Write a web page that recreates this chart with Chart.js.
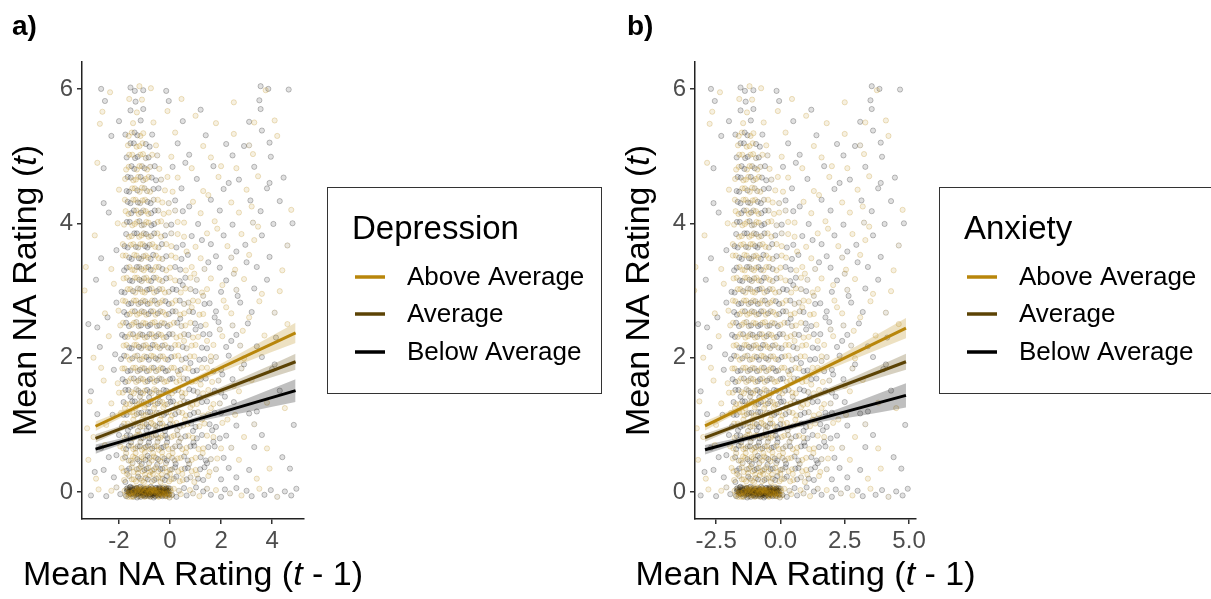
<!DOCTYPE html>
<html>
<head>
<meta charset="utf-8">
<script src="https://cdn.jsdelivr.net/npm/chart.js@4.4.1/dist/chart.umd.min.js"></script>
<style>
  html, body { margin: 0; padding: 0; background: #fff; }
  body { width: 1211px; height: 599px; position: relative; overflow: hidden; }
  #depChart { position: absolute; left: 0; top: 0; }
  #anxChart { position: absolute; left: 605px; top: 0; }
</style>
</head>
<body>
<canvas id="depChart" width="605" height="599"></canvas>
<canvas id="anxChart" width="606" height="599"></canvas>
<script>
// Groups (legend order)
const groupLabels = ['Above Average', 'Average', 'Below Average'];
const groupColors = ['#B8860B', '#5C4305', '#000000'];
const groupRGB = ['184,134,11', '92,67,5', '0,0,0'];

// Axis ticks
const yTicks = [0, 2, 4, 6];
const depXTicks = [-2, 0, 2, 4];
const anxXTicks = [-2.5, 0, 2.5, 5];

// Fitted lines (endpoints) per group: above, average, below
const depFitX = [-2.92, 4.92];
const depFitAbove = [0.98, 2.37];
const depFitAverage = [0.80, 1.94];
const depFitBelow = [0.64, 1.51];

const anxFitX = [-2.93, 4.88];
const anxFitAbove = [0.985, 2.44];
const anxFitAverage = [0.81, 1.94];
const anxFitBelow = [0.63, 1.44];

// Confidence bands read at a few x positions
const depBandX = [-2.92, -1.5, 0, 1.5, 3, 4.92];
const depBandAboveHi = [1.05, 1.27, 1.53, 1.81, 2.12, 2.52];
const depBandAboveLo = [0.91, 1.19, 1.47, 1.71, 1.94, 2.22];
const depBandAverageHi = [0.86, 1.045, 1.245, 1.48, 1.73, 2.06];
const depBandAverageLo = [0.74, 0.975, 1.195, 1.40, 1.59, 1.82];
const depBandBelowHi = [0.71, 0.84, 0.99, 1.18, 1.39, 1.68];
const depBandBelowLo = [0.57, 0.76, 0.93, 1.08, 1.19, 1.34];

const anxBandX = [-2.93, -1.5, 0, 1.5, 3, 4.88];
const anxBandAboveHi = [1.055, 1.29, 1.56, 1.86, 2.18, 2.59];
const anxBandAboveLo = [0.915, 1.21, 1.50, 1.76, 2.00, 2.29];
const anxBandAverageHi = [0.87, 1.055, 1.255, 1.49, 1.74, 2.06];
const anxBandAverageLo = [0.75, 0.985, 1.205, 1.41, 1.60, 1.82];
const anxBandBelowHi = [0.70, 0.82, 0.96, 1.14, 1.35, 1.62];
const anxBandBelowLo = [0.56, 0.74, 0.90, 1.04, 1.13, 1.26];

// Observations: [NA(t-1), NA(t), group] (0 above, 1 average, 2 below)
const naPoints = [
  // ~0
  [-3.1,-0.05,2],[-2.8,0.04,0],[-2.5,-0.06,2],[-2.3,0.02,0],[-2.1,0.07,1],[-1.95,-0.03,2],
  [-1.78,0.02,0],[-1.72,-0.06,2],[-1.66,0.06,1],[-1.61,-0.01,0],[-1.55,0.08,2],[-1.52,-0.07,0],[-1.47,0.03,2],[-1.41,-0.04,1],
  [-1.38,0.07,0],[-1.33,0.0,2],[-1.29,-0.08,2],[-1.24,0.05,0],[-1.2,-0.02,1],[-1.16,0.08,2],[-1.12,-0.05,0],[-1.08,0.02,2],
  [-1.04,0.06,1],[-1.0,-0.07,0],[-0.97,0.01,2],[-0.93,-0.03,2],[-0.9,0.07,0],[-0.86,-0.06,1],[-0.82,0.03,2],[-0.79,-0.01,0],
  [-0.75,0.08,2],[-0.71,-0.05,1],[-0.68,0.04,0],[-0.64,-0.08,2],[-0.6,0.0,0],[-0.57,0.06,2],[-0.53,-0.04,1],[-0.49,0.02,2],
  [-0.45,-0.07,0],[-0.42,0.07,2],[-0.38,-0.02,1],[-0.34,0.05,0],[-0.3,-0.06,2],[-0.26,0.01,2],[-0.22,0.08,0],[-0.18,-0.05,1],
  [-0.14,0.03,2],[-0.1,-0.01,0],[-0.06,0.06,2],[-0.02,-0.08,1],[0.03,0.02,0],[0.08,-0.04,2],
  [-1.7,0.05,2],[-1.58,-0.02,1],[-1.44,0.0,0],[-1.35,0.05,1],[-1.26,-0.03,2],[-1.14,0.04,0],[-1.05,-0.05,2],[-0.95,0.05,1],
  [-0.88,-0.02,0],[-0.77,0.04,2],[-0.66,-0.03,1],[-0.55,0.03,0],[-0.47,-0.05,2],[-0.36,0.04,1],[-0.28,-0.03,0],[-0.16,0.05,2],
  [-0.08,-0.03,1],[-1.5,0.02,2],[-1.3,0.03,0],[-1.1,0.0,2],[-0.92,0.02,1],[-0.73,-0.01,2],[-0.62,0.03,0],[-0.4,0.0,2],
  [-0.2,-0.02,0],[-1.22,-0.01,1],[-0.84,0.0,2],
  [0.15,0.05,0],[0.25,-0.07,2],[0.35,0.02,1],[0.42,-0.03,0],[0.55,0.06,2],[0.65,-0.05,2],[0.78,0.03,0],[0.9,-0.02,1],
  [1.02,0.07,2],[1.15,-0.06,0],[1.3,0.01,2],[1.45,0.05,1],[1.6,-0.04,2],[1.8,0.03,0],[2.0,-0.07,2],[2.15,0.04,2],
  [2.35,-0.02,1],[2.6,0.06,2],[2.8,-0.05,0],[3.0,0.02,2],[3.2,-0.06,2],[3.5,0.05,0],[3.7,-0.04,2],[3.95,0.03,2],
  [4.2,-0.07,1],[4.5,0.01,2],[4.75,-0.05,2],[4.95,0.05,2],
  // ~0.2
  [-2.9,0.2,0],[-2.2,0.22,2],[-1.8,0.18,0],[-1.6,0.24,1],[-1.42,0.19,0],[-1.25,0.23,2],[-1.1,0.17,0],[-0.95,0.21,1],
  [-0.8,0.25,0],[-0.62,0.18,2],[-0.45,0.22,0],[-0.3,0.2,1],[-0.12,0.24,2],[0.05,0.19,0],[0.25,0.23,2],[0.5,0.18,0],
  [0.8,0.22,1],[1.1,0.2,2],[1.5,0.24,0],[2.0,0.19,2],[2.6,0.22,2],[3.4,0.2,0],
  // ~0.35
  [-2.6,0.33,2],[-1.9,0.36,0],[-1.7,0.32,2],[-1.5,0.37,0],[-1.3,0.34,1],[-1.15,0.38,0],[-1.0,0.33,2],[-0.85,0.36,0],
  [-0.7,0.32,1],[-0.55,0.37,0],[-0.38,0.34,2],[-0.2,0.36,0],[0.0,0.33,1],[0.2,0.37,2],[0.45,0.34,0],[0.7,0.36,2],
  [1.0,0.33,0],[1.35,0.37,2],[1.8,0.34,1],[2.3,0.36,2],[3.1,0.33,2],[3.9,0.35,0],
  // ~0.5
  [-3.2,0.48,0],[-2.4,0.52,2],[-1.85,0.5,0],[-1.62,0.47,1],[-1.45,0.53,0],[-1.28,0.49,2],[-1.12,0.52,0],[-0.96,0.48,2],
  [-0.8,0.51,1],[-0.63,0.53,0],[-0.47,0.49,2],[-0.3,0.52,0],[-0.12,0.47,2],[0.08,0.51,1],[0.3,0.5,0],[0.55,0.53,2],
  [0.85,0.48,0],[1.2,0.52,2],[1.6,0.49,1],[2.1,0.51,2],[2.7,0.48,0],[4.4,0.52,2],
  // ~0.67
  [-2.7,0.66,2],[-1.95,0.68,0],[-1.72,0.64,2],[-1.52,0.69,0],[-1.35,0.65,1],[-1.18,0.68,2],[-1.02,0.66,0],[-0.87,0.69,1],
  [-0.7,0.65,2],[-0.52,0.68,0],[-0.35,0.66,2],[-0.15,0.69,0],[0.1,0.65,1],[0.38,0.68,2],[0.65,0.66,0],[0.95,0.69,2],
  [1.3,0.65,0],[1.75,0.68,2],[2.4,0.66,1],[3.3,0.67,2],
  // ~0.83
  [-3.0,0.82,0],[-2.0,0.85,2],[-1.78,0.81,0],[-1.56,0.84,2],[-1.38,0.82,1],[-1.2,0.86,0],[-1.05,0.81,2],[-0.9,0.84,0],
  [-0.72,0.82,1],[-0.55,0.85,2],[-0.38,0.81,0],[-0.18,0.84,2],[0.05,0.82,0],[0.3,0.85,1],[0.6,0.83,2],[0.9,0.81,0],
  [1.25,0.85,2],[1.7,0.82,0],[2.2,0.84,2],[2.9,0.82,0],[3.6,0.85,2],
  // ~1.0
  [-2.5,1.0,0],[-1.88,0.98,2],[-1.66,1.02,0],[-1.45,0.99,2],[-1.25,1.03,1],[-1.08,0.98,0],[-0.92,1.01,2],[-0.74,1.03,0],
  [-0.58,0.99,1],[-0.4,1.02,2],[-0.22,0.98,0],[0.0,1.01,2],[0.25,1.03,0],[0.52,0.99,1],[0.82,1.02,2],[1.15,0.98,0],
  [1.55,1.01,2],[2.05,1.03,0],[2.6,0.99,2],[3.3,1.01,1],[4.85,1.0,2],
  // ~1.17
  [-2.85,1.16,2],[-1.92,1.18,0],[-1.7,1.15,2],[-1.48,1.19,0],[-1.3,1.16,1],[-1.12,1.18,2],[-0.95,1.15,0],[-0.78,1.19,2],
  [-0.6,1.16,0],[-0.42,1.18,1],[-0.24,1.15,2],[-0.05,1.19,0],[0.2,1.16,2],[0.48,1.18,0],[0.78,1.15,2],[1.1,1.19,1],
  [1.5,1.16,0],[2.0,1.18,2],[2.55,1.15,0],[3.1,1.17,2],
  // ~1.33
  [-2.3,1.32,0],[-1.82,1.34,2],[-1.58,1.31,0],[-1.38,1.35,2],[-1.2,1.32,0],[-1.02,1.34,1],[-0.85,1.31,2],[-0.66,1.35,0],
  [-0.48,1.32,2],[-0.3,1.34,0],[-0.1,1.31,1],[0.12,1.35,2],[0.4,1.32,0],[0.7,1.34,2],[1.05,1.31,0],[1.45,1.35,2],
  [1.95,1.32,1],[2.5,1.34,2],[3.8,1.33,0],[-3.15,1.35,0],
  // ~1.5
  [-3.1,1.5,2],[-2.0,1.48,0],[-1.75,1.52,2],[-1.52,1.49,0],[-1.32,1.53,1],[-1.15,1.48,2],[-0.98,1.51,0],[-0.8,1.49,2],
  [-0.62,1.53,0],[-0.44,1.48,1],[-0.25,1.52,2],[-0.05,1.49,0],[0.18,1.51,2],[0.46,1.48,0],[0.75,1.53,2],[1.08,1.49,1],
  [1.5,1.52,0],[2.0,1.48,2],[2.7,1.5,0],[4.3,1.51,2],
  // ~1.67
  [-2.6,1.66,0],[-1.86,1.68,2],[-1.64,1.65,0],[-1.42,1.69,2],[-1.24,1.66,1],[-1.06,1.68,0],[-0.88,1.65,2],[-0.7,1.69,0],
  [-0.52,1.66,2],[-0.33,1.68,1],[-0.12,1.65,0],[0.1,1.69,2],[0.38,1.66,0],[0.68,1.68,2],[1.0,1.65,0],[1.4,1.69,2],
  [1.9,1.66,1],[2.45,1.68,2],[3.2,1.67,0],
  // ~1.83
  [-2.2,1.82,2],[-1.78,1.84,0],[-1.55,1.81,2],[-1.35,1.85,0],[-1.18,1.82,2],[-1.0,1.84,1],[-0.82,1.81,0],[-0.64,1.85,2],
  [-0.46,1.82,0],[-0.28,1.84,2],[-0.08,1.81,1],[0.15,1.85,0],[0.42,1.82,2],[0.72,1.84,0],[1.05,1.81,2],[1.45,1.85,0],
  [2.0,1.82,2],[2.8,1.84,1],[4.0,1.83,2],
  // ~2.0
  [-3.0,2.0,0],[-1.92,1.98,2],[-1.7,2.02,0],[-1.48,1.99,2],[-1.28,2.03,1],[-1.1,1.98,0],[-0.92,2.01,2],[-0.74,2.03,0],
  [-0.56,1.99,2],[-0.38,2.02,1],[-0.18,1.98,0],[0.05,2.01,2],[0.32,2.03,0],[0.62,1.99,2],[0.95,2.02,0],[1.35,1.98,2],
  [1.8,2.01,1],[2.3,2.03,2],[2.9,1.99,0],[3.6,2.01,2],
  // ~2.17
  [-2.75,2.16,2],[-1.82,2.18,0],[-1.6,2.15,2],[-1.4,2.19,0],[-1.22,2.16,2],[-1.04,2.18,1],[-0.86,2.15,0],[-0.68,2.19,2],
  [-0.5,2.16,0],[-0.3,2.18,2],[-0.08,2.15,1],[0.2,2.19,0],[0.5,2.16,2],[0.85,2.18,0],[1.25,2.15,2],[1.7,2.19,0],
  [2.2,2.16,2],[2.75,2.18,1],[3.4,2.17,2],
  // ~2.33
  [-2.4,2.32,0],[-1.88,2.34,2],[-1.66,2.31,0],[-1.45,2.35,2],[-1.26,2.32,0],[-1.08,2.34,2],[-0.9,2.31,1],[-0.72,2.35,0],
  [-0.54,2.32,2],[-0.35,2.34,0],[-0.14,2.31,2],[0.1,2.35,1],[0.4,2.32,0],[0.72,2.34,2],[1.1,2.31,0],[1.55,2.35,2],
  [2.05,2.32,0],[2.6,2.34,2],[3.7,2.33,0],[-2.85,2.45,2],
  // ~2.5
  [-3.2,2.5,2],[-1.95,2.48,0],[-1.72,2.52,2],[-1.5,2.49,0],[-1.32,2.53,1],[-1.14,2.48,2],[-0.96,2.51,0],[-0.78,2.49,2],
  [-0.6,2.53,0],[-0.42,2.48,2],[-0.22,2.51,1],[0.0,2.49,0],[0.28,2.52,2],[0.6,2.48,0],[0.98,2.51,2],[1.4,2.49,0],
  [1.9,2.53,2],[2.45,2.48,1],[3.05,2.51,2],[4.6,2.5,0],
  // ~2.67
  [-2.55,2.66,0],[-1.8,2.68,2],[-1.58,2.65,0],[-1.38,2.69,2],[-1.2,2.66,0],[-1.02,2.68,1],[-0.84,2.65,2],[-0.66,2.69,0],
  [-0.48,2.66,2],[-0.28,2.68,0],[-0.05,2.65,2],[0.22,2.69,1],[0.55,2.66,0],[0.9,2.68,2],[1.3,2.65,0],[1.8,2.69,2],
  [2.4,2.66,0],[3.2,2.68,2],[4.1,2.67,1],
  // ~2.83
  [-2.1,2.82,2],[-1.75,2.84,0],[-1.52,2.81,2],[-1.33,2.85,0],[-1.15,2.82,2],[-0.97,2.84,1],[-0.79,2.81,0],[-0.6,2.85,2],
  [-0.4,2.82,0],[-0.18,2.84,2],[0.08,2.81,0],[0.38,2.85,2],[0.72,2.82,1],[1.1,2.84,0],[1.55,2.81,2],[2.1,2.85,0],
  [2.75,2.82,2],[3.5,2.84,0],
  // ~3.0
  [-3.35,3.0,0],[-1.9,2.98,2],[-1.66,3.02,0],[-1.45,2.99,2],[-1.26,3.03,1],[-1.08,2.98,0],[-0.9,3.01,2],[-0.72,3.03,0],
  [-0.52,2.99,2],[-0.3,3.02,0],[-0.05,2.98,1],[0.25,3.01,2],[0.6,3.03,0],[1.0,2.99,2],[1.45,3.02,0],[2.0,2.98,2],
  [2.6,3.01,1],[3.3,3.03,2],[4.3,2.99,0],
  // ~3.17
  [-2.9,3.16,2],[-1.82,3.18,0],[-1.58,3.15,2],[-1.38,3.19,0],[-1.2,3.16,2],[-1.02,3.18,1],[-0.84,3.15,0],[-0.64,3.19,2],
  [-0.42,3.16,0],[-0.15,3.18,2],[0.2,3.15,0],[0.6,3.19,2],[1.05,3.16,1],[1.6,3.18,0],[2.2,3.15,2],[2.9,3.17,0],[3.8,3.16,2],
  // ~3.33
  [-2.3,3.32,0],[-1.7,3.34,2],[-1.48,3.31,0],[-1.3,3.35,2],[-1.12,3.32,1],[-0.94,3.34,0],[-0.76,3.31,2],[-0.55,3.35,0],
  [-0.3,3.32,2],[0.0,3.34,0],[0.4,3.31,2],[0.85,3.35,0],[1.35,3.32,1],[1.95,3.34,2],[2.55,3.31,0],[3.4,3.35,2],[-3.3,3.35,0],
  // ~3.5
  [-2.7,3.48,2],[-1.85,3.52,0],[-1.6,3.49,2],[-1.4,3.53,0],[-1.22,3.48,2],[-1.04,3.51,1],[-0.86,3.49,0],[-0.66,3.53,2],
  [-0.44,3.48,0],[-0.15,3.51,2],[0.22,3.49,0],[0.7,3.53,2],[1.2,3.48,0],[1.8,3.51,2],[2.4,3.49,1],[3.1,3.53,0],[3.9,3.5,2],
  // ~3.67
  [-1.78,3.66,2],[-1.54,3.68,0],[-1.34,3.65,2],[-1.16,3.69,0],[-0.98,3.66,2],[-0.8,3.68,1],[-0.58,3.65,0],[-0.32,3.69,2],
  [0.05,3.66,0],[0.5,3.68,2],[1.0,3.65,0],[1.6,3.69,2],[2.25,3.66,0],[2.95,3.68,2],[4.6,3.67,1],
  // ~3.83
  [-2.95,3.82,0],[-1.72,3.84,2],[-1.5,3.81,0],[-1.3,3.85,2],[-1.12,3.82,0],[-0.94,3.84,2],[-0.74,3.81,1],[-0.5,3.85,0],
  [-0.2,3.82,2],[0.3,3.84,0],[0.85,3.81,2],[1.45,3.85,0],[2.1,3.82,2],[2.8,3.84,0],[3.6,3.82,2],
  // ~4.0
  [-1.8,3.98,0],[-1.58,4.02,2],[-1.38,3.99,0],[-1.2,4.03,2],[-1.02,3.98,1],[-0.84,4.01,0],[-0.62,3.99,2],[-0.35,4.03,0],
  [0.05,3.98,2],[0.55,4.01,0],[1.1,3.99,2],[1.75,4.03,0],[2.45,3.98,2],[3.25,4.01,1],[4.05,3.99,2],
  // ~4.17
  [-2.4,4.16,2],[-1.74,4.18,0],[-1.52,4.15,2],[-1.32,4.19,0],[-1.14,4.16,2],[-0.95,4.18,0],[-0.74,4.15,2],[-0.46,4.19,1],
  [-0.05,4.16,0],[0.5,4.18,2],[1.2,4.15,0],[1.95,4.19,2],[2.7,4.16,0],[3.55,4.18,2],[4.75,4.2,0],
  // ~4.33
  [-1.66,4.32,2],[-1.44,4.35,0],[-1.26,4.31,2],[-1.08,4.34,0],[-0.88,4.32,2],[-0.64,4.35,1],[-0.3,4.31,0],[0.2,4.34,2],
  [0.9,4.32,0],[1.6,4.35,2],[2.4,4.31,0],[3.15,4.34,2],[4.3,4.33,2],
  // ~4.5
  [-2.0,4.5,0],[-1.7,4.48,2],[-1.48,4.52,0],[-1.28,4.49,2],[-1.1,4.53,0],[-0.9,4.48,1],[-0.65,4.51,2],[-0.2,4.49,0],
  [0.45,4.52,2],[1.3,4.48,0],[2.1,4.51,2],[3.0,4.5,0],[3.8,4.52,2],
  // ~4.67
  [-1.76,4.66,0],[-1.54,4.68,2],[-1.34,4.65,0],[-1.15,4.69,2],[-0.95,4.66,0],[-0.72,4.68,2],[-0.35,4.65,1],[0.3,4.68,0],
  [1.05,4.66,2],[1.9,4.69,0],[2.7,4.65,2],[3.45,4.7,0],[4.45,4.68,2],
  // ~4.83
  [-2.6,4.82,2],[-1.62,4.84,0],[-1.4,4.81,2],[-1.2,4.85,0],[-1.0,4.82,2],[-0.78,4.84,1],[-0.42,4.81,0],[0.1,4.84,2],
  [0.85,4.82,0],[1.7,4.85,2],[2.6,4.82,0],[3.3,4.84,2],
  // ~5.0
  [-1.7,4.98,2],[-1.48,5.02,0],[-1.27,4.99,2],[-1.06,5.03,0],[-0.84,4.98,2],[-0.5,5.01,1],[0.05,4.99,0],[0.75,5.02,2],
  [1.6,4.98,0],[2.45,5.01,2],[3.25,5.03,0],[3.95,4.99,2],
  // ~5.17
  [-1.65,5.16,0],[-1.42,5.19,2],[-1.2,5.15,0],[-0.95,5.18,2],[-0.55,5.16,0],[0.3,5.19,2],[1.3,5.15,0],[2.2,5.18,2],
  [3.1,5.16,1],[3.9,5.2,2],
  // ~5.33
  [-1.75,5.32,2],[-1.5,5.35,0],[-1.28,5.31,2],[-1.05,5.34,0],[-0.7,5.32,2],[0.2,5.35,0],[1.4,5.31,2],[2.5,5.33,0],[3.6,5.38,2],
  // ~5.5
  [-2.75,5.48,0],[-2.0,5.52,2],[-1.45,5.49,0],[-1.15,5.53,2],[-0.65,5.5,0],[0.5,5.52,2],[1.8,5.49,0],[3.1,5.51,2],[4.1,5.53,0],
  // ~5.67
  [-2.65,5.66,0],[-1.55,5.68,2],[-1.3,5.65,0],[-1.05,5.7,2],[-0.1,5.67,0],[1.2,5.69,2],[3.55,5.7,2],
  // ~5.83
  [-2.55,5.82,2],[-1.6,5.85,0],[-1.35,5.81,2],[-1.1,5.84,0],[-0.05,5.82,2],[0.45,5.85,0],[3.5,5.83,2],[2.5,5.8,0],
  // ~6.0
  [-2.7,6.0,2],[-2.35,5.95,0],[-1.55,6.02,2],[-1.38,5.97,2],[-1.2,6.04,0],[-1.05,5.98,2],[-0.75,6.01,0],[-0.15,5.97,2],
  [3.55,6.04,2],[3.75,5.98,0],[3.85,6.0,2],[4.65,5.99,2]
];

// Extra observations in the crowded column near x = -1 and the floor at 0
const naPointsDense = [
  // floor
  [-1.74,-0.04,0],[-1.69,0.01,2],[-1.64,-0.07,0],[-1.59,0.04,1],[-1.54,-0.02,0],[-1.49,0.06,2],[-1.45,-0.06,0],[-1.4,0.02,1],
  [-1.36,-0.03,0],[-1.31,0.06,2],[-1.27,0.0,0],[-1.23,-0.06,1],[-1.18,0.03,0],[-1.13,-0.02,2],[-1.09,0.06,0],[-1.06,-0.04,1],
  [-1.02,0.01,0],[-0.98,-0.06,2],[-0.94,0.04,0],[-0.91,-0.01,1],[-0.87,0.06,0],[-0.83,-0.04,2],[-0.8,0.02,0],[-0.76,-0.06,1],
  [-0.72,0.05,0],[-0.69,-0.02,2],[-0.65,0.03,0],[-0.61,-0.05,1],[-0.58,0.01,0],[-0.54,0.06,2],[-0.5,-0.03,0],[-0.46,0.03,1],
  [-0.43,-0.06,0],[-0.39,0.05,2],[-0.35,-0.01,0],[-0.31,0.04,1],[-0.27,-0.05,0],[-0.23,0.02,2],[-0.19,-0.03,0],[-0.15,0.06,1],
  [-0.11,-0.06,0],[-0.07,0.02,2],[-0.03,-0.03,0],[0.01,0.05,1],[0.05,-0.05,0],
  [-1.62,0.0,2],[-1.56,0.03,1],[-1.46,-0.02,1],[-1.37,0.01,2],[-1.28,0.04,1],[-1.19,-0.04,0],[-1.11,0.01,1],[-1.01,0.03,2],
  [-0.96,-0.02,1],[-0.89,0.01,2],[-0.81,-0.03,1],[-0.74,0.02,0],[-0.67,0.0,1],[-0.59,-0.02,2],[-0.52,0.01,1],[-0.44,-0.01,0],
  [-0.37,0.02,2],[-0.29,0.0,1],[-0.21,0.03,0],[-0.13,-0.02,2],[-0.05,0.01,1],
  [-1.42,0.01,0],[-1.32,-0.02,1],[-1.17,0.0,2],[-1.07,0.02,1],[-0.99,0.0,0],[-0.86,0.02,1],[-0.78,-0.01,0],[-0.7,0.01,1],
  [-0.63,-0.01,2],[-0.56,0.0,1],[-0.48,0.02,0],[-0.41,-0.02,1],[-0.33,0.01,2],[-0.25,-0.01,1],
  // column rows
  [-1.75,0.15,2],[-1.5,0.19,0],[-1.33,0.16,0],[-1.18,0.2,1],[-1.02,0.15,0],[-0.87,0.19,2],[-0.71,0.16,0],[-0.54,0.2,1],
  [-0.37,0.15,0],[-0.2,0.18,2],[-0.04,0.16,0],[0.15,0.2,1],[0.38,0.16,0],[0.65,0.19,2],[0.95,0.15,0],[1.3,0.18,2],
  [-1.82,0.31,0],[-1.6,0.35,2],[-1.42,0.3,0],[-1.22,0.35,1],[-1.07,0.31,0],[-0.92,0.35,2],[-0.77,0.3,0],[-0.62,0.34,1],
  [-0.46,0.31,0],[-0.3,0.35,2],[-0.12,0.3,0],[0.08,0.34,1],[0.32,0.31,0],[0.58,0.35,2],[0.85,0.31,0],[1.18,0.34,2],[1.55,0.3,0],
  [-1.76,0.52,2],[-1.54,0.47,0],[-1.37,0.51,0],[-1.2,0.46,1],[-1.04,0.5,0],[-0.88,0.54,2],[-0.72,0.47,0],[-0.55,0.51,1],
  [-0.39,0.46,0],[-0.22,0.5,2],[-0.04,0.54,0],[0.18,0.47,1],[0.42,0.51,0],[0.7,0.47,2],[1.0,0.51,0],[1.4,0.47,2],[1.85,0.5,0],
  [-1.83,0.65,0],[-1.62,0.69,2],[-1.44,0.64,0],[-1.27,0.68,1],[-1.1,0.63,0],[-0.95,0.67,2],[-0.78,0.64,0],[-0.61,0.68,1],
  [-0.44,0.63,0],[-0.26,0.67,2],[-0.06,0.64,0],[0.2,0.68,1],[0.48,0.64,0],[0.8,0.68,2],[1.12,0.64,0],[1.5,0.67,2],[2.0,0.65,0],
  [-1.7,0.84,2],[-1.47,0.8,0],[-1.29,0.85,0],[-1.13,0.8,1],[-0.97,0.84,0],[-0.81,0.8,2],[-0.64,0.85,0],[-0.47,0.8,1],
  [-0.3,0.84,0],[-0.1,0.8,2],[0.15,0.84,0],[0.42,0.8,1],[0.72,0.84,0],[1.05,0.8,2],[1.45,0.84,0],[1.95,0.8,2],
  [-1.8,1.02,0],[-1.56,0.97,2],[-1.36,1.01,0],[-1.17,0.97,1],[-1.0,1.02,0],[-0.84,0.97,2],[-0.66,1.01,0],[-0.5,0.97,1],
  [-0.31,1.02,0],[-0.12,0.97,2],[0.12,1.01,0],[0.38,0.97,1],[0.68,1.01,0],[1.0,0.97,2],[1.35,1.02,0],[1.8,0.97,2],
  [-1.82,1.15,2],[-1.6,1.19,0],[-1.4,1.14,0],[-1.22,1.18,1],[-1.04,1.14,0],[-0.87,1.19,2],[-0.7,1.14,0],[-0.52,1.18,1],
  [-0.34,1.14,0],[-0.15,1.18,2],[0.08,1.14,0],[0.34,1.19,1],[0.62,1.14,0],[0.94,1.18,2],[1.3,1.14,0],[1.75,1.18,2],
  [-1.72,1.31,0],[-1.48,1.35,2],[-1.3,1.3,0],[-1.12,1.35,1],[-0.95,1.3,0],[-0.76,1.34,2],[-0.58,1.3,0],[-0.4,1.35,1],
  [-0.2,1.3,0],[0.02,1.34,2],[0.26,1.3,0],[0.55,1.35,1],[0.88,1.3,0],[1.25,1.34,2],[1.7,1.31,0],
  [-1.85,1.48,0],[-1.63,1.52,2],[-1.42,1.47,0],[-1.24,1.51,1],[-1.06,1.47,0],[-0.9,1.52,2],[-0.72,1.47,0],[-0.54,1.51,1],
  [-0.35,1.47,0],[-0.15,1.51,2],[0.08,1.47,0],[0.32,1.52,1],[0.6,1.47,0],[0.92,1.51,2],[1.3,1.47,0],[1.75,1.51,2],
  [-1.75,1.64,2],[-1.53,1.69,0],[-1.33,1.64,0],[-1.15,1.69,1],[-0.97,1.64,0],[-0.79,1.68,2],[-0.61,1.64,0],[-0.42,1.69,1],
  [-0.22,1.64,0],[0.0,1.68,2],[0.25,1.64,0],[0.53,1.69,1],[0.85,1.64,0],[1.2,1.68,2],[1.65,1.64,0],
  [-1.87,1.84,0],[-1.66,1.8,2],[-1.45,1.85,0],[-1.27,1.8,1],[-1.09,1.85,0],[-0.91,1.8,2],[-0.73,1.85,0],[-0.55,1.8,1],
  [-0.36,1.85,0],[-0.17,1.8,2],[0.05,1.85,0],[0.3,1.8,1],[0.58,1.85,0],[0.9,1.8,2],[1.25,1.85,0],[1.7,1.8,2],
  [-1.8,2.03,2],[-1.58,1.97,0],[-1.38,2.02,0],[-1.19,1.97,1],[-1.01,2.02,0],[-0.83,1.97,2],[-0.65,2.02,0],[-0.47,1.97,1],
  [-0.28,2.02,0],[-0.08,1.97,2],[0.18,2.02,0],[0.46,1.97,1],[0.78,2.02,0],[1.15,1.97,2],[1.6,2.02,0],
  [-1.71,2.19,0],[-1.5,2.14,2],[-1.31,2.19,0],[-1.13,2.14,1],[-0.95,2.19,0],[-0.77,2.14,2],[-0.59,2.19,0],[-0.4,2.14,1],
  [-0.2,2.19,0],[0.05,2.14,2],[0.33,2.19,0],[0.65,2.14,1],[1.0,2.19,0],[1.45,2.14,2],
  [-1.77,2.31,2],[-1.56,2.35,0],[-1.36,2.3,0],[-1.17,2.35,1],[-0.99,2.3,0],[-0.81,2.35,2],[-0.63,2.3,0],[-0.45,2.35,1],
  [-0.25,2.3,0],[-0.03,2.35,2],[0.25,2.3,0],[0.55,2.35,1],[0.9,2.3,0],[1.3,2.35,2],
  [-1.84,2.52,0],[-1.61,2.47,2],[-1.41,2.52,0],[-1.23,2.47,1],[-1.05,2.52,0],[-0.87,2.47,2],[-0.69,2.52,0],[-0.51,2.47,1],
  [-0.32,2.52,0],[-0.1,2.47,2],[0.15,2.52,0],[0.45,2.47,1],[0.8,2.52,0],[1.2,2.47,2],
  [-1.69,2.64,2],[-1.48,2.69,0],[-1.29,2.64,0],[-1.11,2.69,1],[-0.93,2.64,0],[-0.75,2.69,2],[-0.57,2.64,0],[-0.38,2.69,1],
  [-0.16,2.64,0],[0.1,2.69,2],[0.4,2.64,0],[0.75,2.69,1],[1.15,2.64,0],
  [-1.85,2.85,0],[-1.63,2.8,2],[-1.42,2.85,0],[-1.24,2.8,1],[-1.06,2.85,0],[-0.88,2.8,2],[-0.7,2.85,0],[-0.5,2.8,1],
  [-0.29,2.85,0],[-0.05,2.8,2],[0.22,2.85,0],[0.55,2.8,1],[0.9,2.85,0],[1.35,2.8,2],
  [-1.78,2.97,2],[-1.56,3.02,0],[-1.36,2.97,0],[-1.17,3.02,1],[-0.99,2.97,0],[-0.81,3.02,2],[-0.62,2.97,0],[-0.42,3.02,1],
  [-0.2,2.97,0],[0.1,3.02,2],[0.42,2.97,0],[0.8,3.02,1],[1.25,2.97,0],
  [-1.7,3.19,0],[-1.48,3.14,2],[-1.29,3.19,0],[-1.11,3.14,1],[-0.93,3.19,0],[-0.74,3.14,2],[-0.54,3.19,0],[-0.3,3.14,1],
  [0.0,3.19,0],[0.38,3.14,2],[0.8,3.19,0],
  [-1.8,3.3,2],[-1.59,3.35,0],[-1.39,3.3,0],[-1.21,3.35,1],[-1.03,3.3,0],[-0.85,3.35,2],[-0.66,3.3,0],[-0.44,3.35,1],
  [-0.15,3.3,0],[0.2,3.35,2],[0.62,3.3,0],
  [-1.73,3.52,0],[-1.5,3.47,2],[-1.31,3.52,0],[-1.13,3.47,1],[-0.95,3.52,0],[-0.76,3.47,2],[-0.55,3.52,0],[-0.3,3.47,1],
  [0.05,3.52,0],[0.45,3.47,2],
  [-1.85,3.69,0],[-1.66,3.64,2],[-1.44,3.69,0],[-1.25,3.64,1],[-1.07,3.69,0],[-0.89,3.64,2],[-0.69,3.69,0],[-0.45,3.64,1],
  [-0.15,3.69,0],[0.25,3.64,2],
  [-1.61,3.8,0],[-1.4,3.85,2],[-1.21,3.8,0],[-1.03,3.85,1],[-0.84,3.8,0],[-0.62,3.85,2],[-0.35,3.8,0],[0.05,3.85,1],[0.55,3.8,0],
  [-1.69,4.02,2],[-1.48,3.97,0],[-1.29,4.02,0],[-1.11,3.97,1],[-0.93,4.02,0],[-0.73,3.97,2],[-0.48,4.02,0],[-0.15,3.97,1],[0.3,4.02,0],
  [-1.63,4.14,0],[-1.42,4.19,2],[-1.23,4.14,0],[-1.05,4.19,1],[-0.85,4.14,0],[-0.6,4.19,2],[-0.25,4.14,0],[0.2,4.19,1],
  [-1.77,4.35,0],[-1.55,4.3,2],[-1.35,4.35,0],[-1.17,4.3,1],[-0.98,4.35,0],[-0.76,4.3,2],[-0.48,4.35,0],[-0.05,4.3,1],
  [-1.6,4.47,2],[-1.38,4.52,0],[-1.19,4.47,0],[-1.0,4.52,1],[-0.78,4.47,0],[-0.45,4.52,2],[0.1,4.47,0],
  [-1.66,4.69,2],[-1.44,4.64,0],[-1.25,4.69,0],[-1.05,4.64,1],[-0.84,4.69,0],[-0.55,4.64,2],[-0.1,4.69,0],
  [-1.72,4.8,0],[-1.51,4.85,2],[-1.3,4.8,0],[-1.1,4.85,1],[-0.9,4.8,0],[-0.6,4.85,2],
  [-1.6,5.02,0],[-1.37,4.97,2],[-1.16,5.02,0],[-0.95,4.97,1],[-0.7,5.02,0],
  [-1.55,5.19,2],[-1.31,5.14,0],[-1.08,5.19,0],[-0.8,5.14,2],
  [-1.62,5.3,0],[-1.39,5.35,2],[-1.16,5.3,0]
];

// More observations: darker floor, the lower body and the spread to the right
const naPointsMore = [
  [-1.67,0.03,2],[-1.63,-0.04,1],[-1.57,0.07,2],[-1.51,-0.01,1],[-1.48,0.04,2],[-1.43,-0.07,1],[-1.39,0.05,2],[-1.34,-0.04,2],
  [-1.3,0.06,1],[-1.25,0.02,2],[-1.21,0.07,1],[-1.15,-0.07,2],[-1.1,0.04,1],[-1.06,0.0,2],[-1.03,-0.03,1],[-0.99,0.05,2],
  [-0.95,-0.05,1],[-0.9,0.02,2],[-0.85,-0.01,1],[-0.82,0.05,2],[-0.78,-0.07,1],[-0.74,0.0,2],[-0.7,0.06,1],[-0.66,-0.04,2],
  [-0.62,0.02,1],[-0.58,-0.06,2],[-0.55,0.04,1],[-0.51,-0.01,2],[-0.47,0.05,1],[-0.44,-0.03,2],[-0.4,0.06,1],[-0.36,-0.05,2],
  [-0.32,0.01,1],[-0.28,0.06,2],[-0.24,-0.03,1],[-0.2,0.04,2],[-0.17,-0.06,1],[-0.12,0.01,2],[-0.09,0.05,1],[-0.04,-0.04,2],
  [-1.6,0.01,1],[-1.53,-0.03,2],[-1.4,-0.01,1],[-1.29,0.01,2],[-1.2,0.03,1],[-1.12,-0.01,2],[-1.0,0.01,1],[-0.93,-0.02,2],
  [-0.83,0.02,1],[-0.76,-0.03,2],[-0.68,0.02,1],[-0.6,-0.01,2],[-0.53,0.03,1],[-0.45,0.0,2],[-0.38,-0.03,1],[-0.3,0.02,2],
  [-0.22,-0.01,1],[-0.14,0.02,2],
  [-1.68,0.27,0],[-1.47,0.43,1],[-1.26,0.28,0],[-1.11,0.42,2],[-0.98,0.26,0],[-0.82,0.43,1],[-0.67,0.27,0],[-0.5,0.41,2],
  [-0.33,0.26,0],[-0.16,0.43,1],[0.0,0.27,0],[0.22,0.42,2],[0.48,0.27,0],[0.75,0.42,1],[1.05,0.26,0],[1.45,0.43,2],
  [-1.72,0.58,0],[-1.53,0.74,2],[-1.35,0.58,0],[-1.16,0.75,1],[-0.99,0.59,0],[-0.83,0.74,2],[-0.66,0.58,0],[-0.49,0.75,1],
  [-0.31,0.59,0],[-0.12,0.74,2],[0.1,0.58,0],[0.35,0.75,1],[0.62,0.59,0],[0.92,0.74,2],[1.28,0.58,0],[1.7,0.75,2],
  [-1.65,0.92,2],[-1.44,1.08,0],[-1.26,0.91,1],[-1.09,1.08,0],[-0.92,0.92,2],[-0.75,1.09,0],[-0.57,0.92,1],[-0.39,1.08,0],
  [-0.2,0.91,2],[0.02,1.08,0],[0.28,0.92,1],[0.58,1.08,0],[0.9,0.91,2],[1.25,1.08,0],[1.65,0.92,2],[2.25,1.08,0],
  [-1.77,1.25,0],[-1.55,1.42,2],[-1.37,1.25,0],[-1.18,1.42,1],[-1.0,1.26,0],[-0.82,1.41,2],[-0.63,1.25,0],[-0.45,1.42,1],
  [-0.26,1.26,0],[-0.05,1.41,2],[0.2,1.25,0],[0.48,1.42,1],[0.8,1.26,0],[1.15,1.41,2],[1.6,1.25,0],[2.15,1.42,2],
  [0.35,1.75,0],[0.8,1.92,2],[1.2,1.6,0],[1.6,1.95,1],[2.05,1.75,2],[2.5,1.58,0],[2.9,1.9,2],[0.55,2.25,0],
  [1.0,2.42,2],[1.45,2.25,0],[1.95,2.42,1],[2.4,2.25,2],[2.85,2.4,0],[0.4,2.58,2],[0.85,2.75,0],[1.3,2.92,1],
  [1.75,2.6,2],[2.2,2.75,0],[2.65,2.92,2],[3.1,2.6,0],[0.5,3.08,2],[0.95,3.25,0],[1.5,3.42,2],[2.05,3.08,0],
  [2.5,3.25,1],[3.0,3.42,2],[0.65,3.58,0],[1.25,3.75,2],[1.85,3.92,0],[2.6,3.58,2],[3.3,3.75,0],[0.75,4.25,2],
  [1.5,4.42,0],[2.3,4.6,2],[3.2,4.25,0],[0.6,4.9,2],[2.0,4.85,0],[2.9,5.15,2],[1.0,5.6,0],[3.3,5.5,0],
  [-2.95,0.3,2],[-2.55,0.7,0],[-2.25,1.15,2],[-2.7,1.85,0],[-2.45,2.6,2],[-2.2,3.1,0],[-2.6,4.3,2],[-2.85,4.9,0],
  [-2.3,5.3,2],[-3.25,0.95,0],[-2.1,0.55,2],[-2.05,1.62,0],[-2.15,2.05,2],[-2.02,2.7,0],[-2.1,3.6,2],[-2.05,4.0,0],
  [3.4,1.2,2],[3.8,0.65,0],[4.1,1.9,2],[4.5,1.25,0],[4.7,0.35,2],[3.6,2.95,0],[4.15,2.3,2],[4.4,3.3,0],
  [3.9,4.6,2],[4.2,5.3,0],[4.8,4.0,2],[3.45,3.95,0]
];

const allPoints = naPoints.concat(naPointsDense, naPointsMore);

const FONT = '"Liberation Sans", Arial, Helvetica, sans-serif';

function toXY(xs, ys) {
  return xs.map((x, i) => ({ x: x, y: ys[i] }));
}

function buildDatasets(fitX, fits, bandX, bandHi, bandLo) {
  const sets = [];
  // fitted lines on top
  fits.forEach((fit, g) => {
    sets.push({
      type: 'line', data: toXY(fitX, fit), borderColor: groupColors[g], borderWidth: 3,
      pointRadius: 0, fill: false, order: 0
    });
  });
  // confidence bands (upper, then lower filled to upper)
  for (let g = 0; g < 3; g++) {
    sets.push({
      type: 'line', data: toXY(bandX, bandHi[g]), borderWidth: 0, borderColor: 'rgba(0,0,0,0)',
      pointRadius: 0, fill: false, cubicInterpolationMode: 'monotone', order: 1
    });
    sets.push({
      type: 'line', data: toXY(bandX, bandLo[g]), borderWidth: 0, borderColor: 'rgba(0,0,0,0)',
      pointRadius: 0, fill: '-1', backgroundColor: 'rgba(' + groupRGB[g] + ',0.25)',
      cubicInterpolationMode: 'monotone', order: 1
    });
  }
  // raw observations underneath
  for (let g = 0; g < 3; g++) {
    sets.push({
      type: 'scatter',
      data: allPoints.filter(p => p[2] === g).map(p => ({ x: p[0], y: p[1] })),
      pointRadius: 2.6, pointBorderWidth: 1,
      pointBackgroundColor: 'rgba(' + groupRGB[g] + ',0.12)',
      pointBorderColor: 'rgba(' + groupRGB[g] + ',0.24)',
      order: 2
    });
  }
  return sets;
}

function drawParts(ctx, parts, x, y, size) {
  let total = 0;
  parts.forEach(p => {
    ctx.font = (p[1] ? 'italic ' : '') + size + 'px ' + FONT;
    total += ctx.measureText(p[0]).width;
  });
  let cx = x - total / 2;
  parts.forEach(p => {
    ctx.font = (p[1] ? 'italic ' : '') + size + 'px ' + FONT;
    ctx.fillText(p[0], cx, y);
    cx += ctx.measureText(p[0]).width;
  });
}

// axis titles, panel tag and boxed legend
function decorPlugin(tag, tagX, legendTitle, boxX) {
  return {
    id: 'decor',
    afterDraw(chart) {
      const ctx = chart.ctx;
      const area = chart.chartArea;
      ctx.save();
      ctx.fillStyle = '#000';
      ctx.textBaseline = 'alphabetic';
      ctx.textAlign = 'left';

      ctx.font = 'bold 28px ' + FONT;
      ctx.fillText(tag, tagX, 35);

      drawParts(ctx, [['Mean NA Rating (', false], ['t', true], [' - 1)', false]],
        (area.left + area.right) / 2, 585, 34);

      ctx.save();
      ctx.translate(area.left - 46, (area.top + area.bottom) / 2);
      ctx.rotate(-Math.PI / 2);
      drawParts(ctx, [['Mean NA Rating (', false], ['t', true], [')', false]], 0, 0, 34);
      ctx.restore();

      // legend
      const top = 187;
      ctx.strokeStyle = '#333';
      ctx.lineWidth = 1;
      ctx.strokeRect(boxX + 0.5, top + 0.5, 274, 206);
      ctx.font = '33px ' + FONT;
      ctx.fillText(legendTitle, boxX + 25, 239);
      ctx.font = '26px ' + FONT;
      ctx.textBaseline = 'middle';
      const rows = [277, 314, 352];
      groupLabels.forEach((label, g) => {
        ctx.strokeStyle = groupColors[g];
        ctx.lineWidth = 3.5;
        ctx.beginPath();
        ctx.moveTo(boxX + 28, rows[g]);
        ctx.lineTo(boxX + 58, rows[g]);
        ctx.stroke();
        ctx.fillText(label, boxX + 80, rows[g] + 1);
      });
      ctx.restore();
    }
  };
}

function axisStyle() {
  return {
    grid: { display: true, drawOnChartArea: false, drawTicks: true, tickLength: 5, color: '#333', lineWidth: 1.5 },
    border: { display: true, color: '#222', width: 1.5 }
  };
}

function makeChart(canvasId, opts) {
  const yAxisWidth = opts.yAxisWidth;
  return new Chart(document.getElementById(canvasId), {
    type: 'scatter',
    data: { datasets: buildDatasets(opts.fitX, opts.fits, opts.bandX, opts.bandHi, opts.bandLo) },
    options: {
      responsive: false,
      animation: false,
      layout: { padding: { top: 62, right: opts.padRight, left: 0, bottom: 0 } },
      plugins: { legend: { display: false }, tooltip: { enabled: false } },
      scales: {
        x: Object.assign({
          type: 'linear', min: opts.xMin, max: opts.xMax,
          afterBuildTicks: s => { s.ticks = opts.xTicks.map(v => ({ value: v })); },
          afterFit: s => { s.height = 80; },
          ticks: { font: { family: FONT, size: 24 }, color: '#4D4D4D', padding: 3, maxRotation: 0, autoSkip: false,
            callback: opts.xFormat }
        }, axisStyle()),
        y: Object.assign({
          type: 'linear', min: -0.4, max: 6.4,
          afterBuildTicks: s => { s.ticks = yTicks.map(v => ({ value: v })); },
          afterFit: s => { s.width = yAxisWidth; },
          ticks: { font: { family: FONT, size: 24 }, color: '#4D4D4D', padding: 4,
            callback: v => String(v) }
        }, axisStyle())
      }
    },
    plugins: [decorPlugin(opts.tag, opts.tagX, opts.legendTitle, opts.boxX)]
  });
}

makeChart('depChart', {
  fitX: depFitX, fits: [depFitAbove, depFitAverage, depFitBelow],
  bandX: depBandX,
  bandHi: [depBandAboveHi, depBandAverageHi, depBandBelowHi],
  bandLo: [depBandAboveLo, depBandAverageLo, depBandBelowLo],
  xMin: -3.45, xMax: 5.25, xTicks: depXTicks, xFormat: v => String(v),
  yAxisWidth: 82, padRight: 605 - 304,
  tag: 'a)', tagX: 12, legendTitle: 'Depression', boxX: 327
});

makeChart('anxChart', {
  fitX: anxFitX, fits: [anxFitAbove, anxFitAverage, anxFitBelow],
  bandX: anxBandX,
  bandHi: [anxBandAboveHi, anxBandAverageHi, anxBandBelowHi],
  bandLo: [anxBandAboveLo, anxBandAverageLo, anxBandBelowLo],
  xMin: -3.32, xMax: 5.27, xTicks: anxXTicks, xFormat: v => v.toFixed(1),
  yAxisWidth: 695 - 605, padRight: 1211 - 916,
  tag: 'b)', tagX: 627 - 605, legendTitle: 'Anxiety', boxX: 939 - 605
});
</script>
</body>
</html>
